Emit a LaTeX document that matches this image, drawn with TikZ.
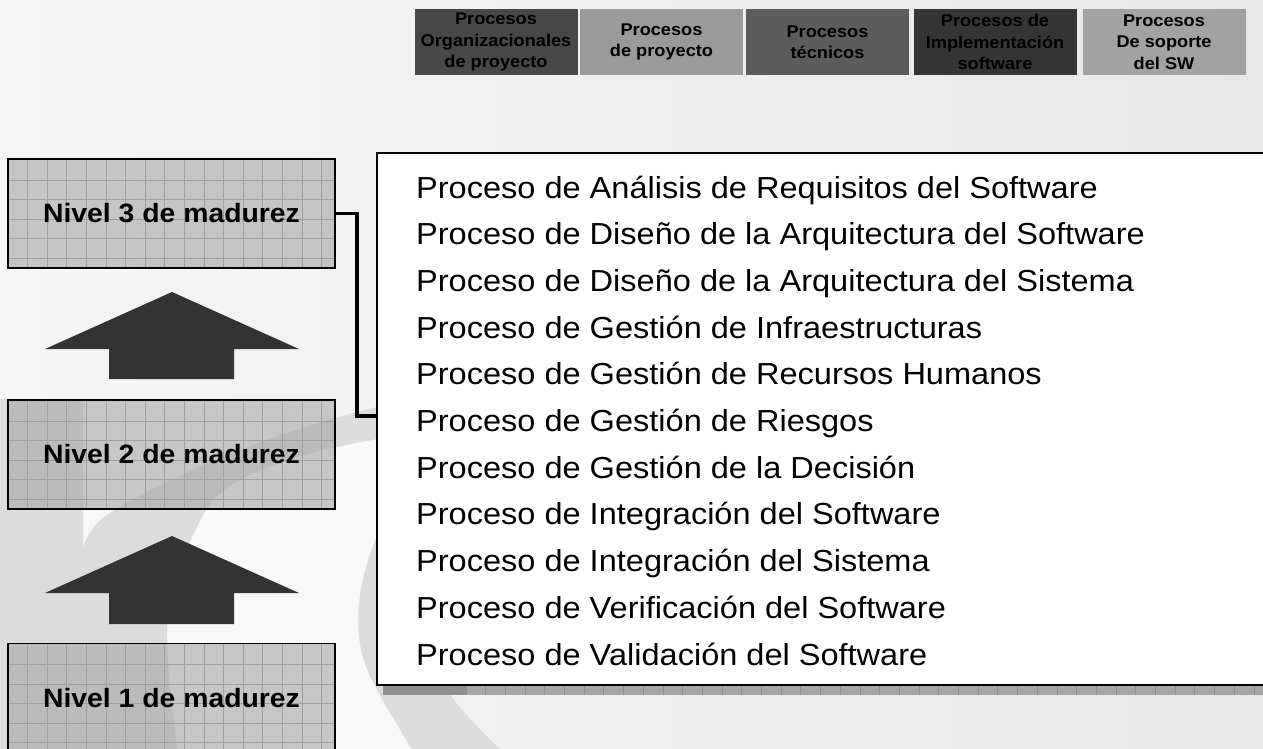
\documentclass[tikz,border=0pt]{standalone}
\usepackage{fontspec}
\setmainfont{Liberation Sans}
\newfontfamily\wfont[FakeStretch=1.07]{Liberation Sans}
\definecolor{bgL}{HTML}{F6F6F6}
\definecolor{bgR}{HTML}{E8E8E8}
\definecolor{ringgray}{HTML}{DCDCDC}
\definecolor{crescwhite}{HTML}{F8F8F8}
\definecolor{tbA}{HTML}{484848}
\definecolor{tbB}{HTML}{9A9A9A}
\definecolor{tbC}{HTML}{5C5C5C}
\definecolor{tbD}{HTML}{353535}
\definecolor{tbE}{HTML}{A2A2A2}
\definecolor{nivfill}{HTML}{A8A8A8}
\definecolor{gridc}{HTML}{A0A0A0}
\definecolor{arrowc}{HTML}{333333}
\definecolor{shadowc}{HTML}{A6A6A6}
\definecolor{shadowdark}{HTML}{8E8E8E}
\tikzset{
  topbox/.style={rectangle, minimum width=163pt, minimum height=66pt, inner sep=0pt,
    align=center, text=black, font=\wfont\bfseries\fontsize{17}{21.5}\selectfont},
  listbox/.style={rectangle, draw=black, line width=2pt, fill=white, inner sep=0pt,
    minimum width=900pt, minimum height=532pt},
  listtxt/.style={inner sep=0pt, font=\wfont\fontsize{30.4}{36}\selectfont},
  gridln/.style={draw=gridc, line width=0.7pt, draw opacity=1},
  nivel/.style={rectangle, draw=black, line width=1.5pt, fill=nivfill, fill opacity=0.62,
    text opacity=1, minimum width=327pt, minimum height=109pt, inner sep=0pt,
    font=\wfont\bfseries\fontsize{26.5}{30}\selectfont,
    path picture={
      \foreach \k in {1,...,16}
        \draw[gridln] ([xshift=\k*19.6pt]path picture bounding box.south west) --
                      ([xshift=\k*19.6pt]path picture bounding box.north west);
      \foreach \k in {1,...,5}
        \draw[gridln] ([yshift=-1.5pt-\k*19.5pt]path picture bounding box.north west) --
                      ([yshift=-1.5pt-\k*19.5pt]path picture bounding box.north east);
    }},
  blockarrow/.style={fill=arrowc},
  conn/.style={draw=black, line width=3.5pt, line join=miter}
}
\begin{document}
\begin{tikzpicture}[x=1pt,y=-1pt]
\useasboundingbox (0,0) rectangle (1263,749);
\begin{scope}
\clip (0,0) rectangle (1263,749);
% background
\shade[left color=bgL, right color=bgR] (0,0) rectangle (1263,749);
% light area in the lower left (edges hidden by boxes and bands)
\fill[crescwhite] (0,399) -- (334,399) -- (334,428) -- (380,428) -- (380,700) -- (418,749) -- (0,749) -- cycle;
% gray crescent band and left strip
\fill[ringgray] (0,399) -- (83,399) -- (83,548)
  .. controls (88,532) and (98,520) .. (110,513)
  .. controls (180,470) and (300,420) .. (420,398) -- (420,433)
  .. controls (320,445) and (240,470) .. (213,500)
  .. controls (190,530) and (165,600) .. (167,640)
  .. controls (168,680) and (174,720) .. (177,749) -- (0,749) -- cycle;
% inner gray crescent
\fill[ringgray] (395,500) .. controls (360,560) and (345,630) .. (372,680)
  .. controls (385,705) and (400,730) .. (412,749) -- (500,749)
  .. controls (470,720) and (440,690) .. (425,650) .. controls (410,600) and (420,540) .. (450,490) -- cycle;

% top category boxes
\node[topbox, fill=tbA] (t1) at (496,42) {Procesos\\Organizacionales\\de proyecto};
\node[topbox, fill=tbB] (t2) at (661.5,42) {Procesos\\de proyecto};
\node[topbox, fill=tbC] (t3) at (827.5,42) {Procesos\\técnicos};
\node[topbox, fill=tbD] (t4) at (995,42) {Procesos de\\Implementación\\software};
\node[topbox, fill=tbE] (t5) at (1164,42) {Procesos\\De soporte\\del SW};

% shadow strip under the list box
\fill[shadowc] (383,684) rectangle (1263,695);
\fill[shadowdark] (383,684) rectangle (466,695);
\foreach \k in {0,...,45}
  \draw[shadowdark, line width=0.6pt] ({387+\k*19.7},684) -- ({387+\k*19.7},695);

% list box
\node[listbox, anchor=north west] (list) at (376,152) {};
\foreach \t [count=\i from 0] in {
  Proceso de Análisis de Requisitos del Software,
  Proceso de Diseño de la Arquitectura del Software,
  Proceso de Diseño de la Arquitectura del Sistema,
  Proceso de Gestión de Infraestructuras,
  Proceso de Gestión de Recursos Humanos,
  Proceso de Gestión de Riesgos,
  Proceso de Gestión de la Decisión,
  Proceso de Integración del Software,
  Proceso de Integración del Sistema,
  Proceso de Verificación del Software,
  Proceso de Validación del Software}
  \node[listtxt, anchor=base west] (l\i) at (416,{198+46.7*\i}) {\t};

% maturity levels
\node[nivel] (n3) at (171.5,213.5) {Nivel 3 de madurez};
\node[nivel] (n2) at (171.5,454.5) {Nivel 2 de madurez};
\node[nivel] (n1) at (171.5,698) {Nivel 1 de madurez};

% block arrows
\fill[blockarrow] (172,292) -- (299,349) -- (234,349) -- (234,379) -- (109,379) -- (109,349) -- (45,349) -- cycle;
\fill[blockarrow] (172,536) -- (299,593) -- (234,593) -- (234,624) -- (109,624) -- (109,593) -- (45,593) -- cycle;

% connector
\coordinate (cj) at (357,416);
\draw[conn] (n3.east) -| (cj) -- (cj -| list.west);
\end{scope}
\end{tikzpicture}
\end{document}
